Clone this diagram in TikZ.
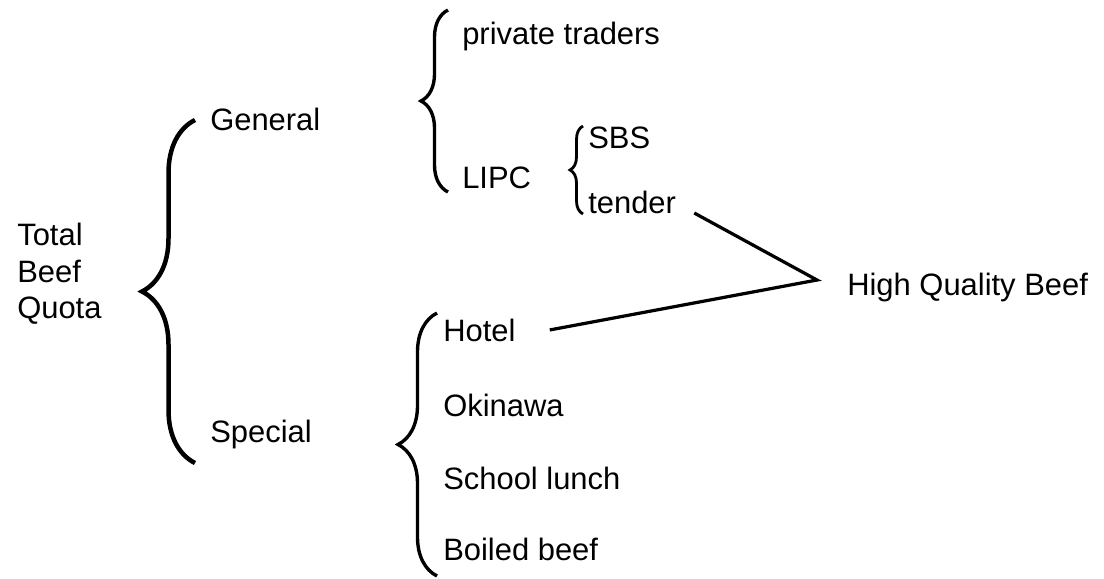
\documentclass[tikz,border=0pt]{standalone}
\usepackage{fontspec}
\setmainfont{Liberation Sans}
\usepackage{tikz}
\usetikzlibrary{positioning, calc, decorations.pathreplacing}

\begin{document}
\begin{tikzpicture}[
    quota/.style={font=\fontsize{22}{26}\selectfont, inner sep=0pt, anchor=base west},
    curly/.style={line width=2.4pt, decorate, decoration={brace, amplitude=#1}},
    link/.style={line width=2.3pt}
  ]
  \useasboundingbox (0, 0) rectangle (27.6, -14.45);

  % Total quota
  \node[quota, anchor=west, align=left] (total) at (0.425, -6.85) {Total\\Beef\\Quota};
  \draw[curly=1.325cm, line width=3.2pt] (4.875, -11.575) -- (4.875, -3.0);

  % General
  \node[quota] (general) at (5.25, -3.25) {General};
  \draw[curly=0.675cm] (11.2, -4.8) -- (11.2, -0.25);
  \node[quota] (private) at (11.55, -1.1) {private traders};
  \node[quota] (lipc) at (11.55, -4.7) {LIPC};
  \draw[curly=0.325cm, line width=2pt] (14.575, -5.35) -- (14.575, -3.15);
  \node[quota] (sbs) at (14.7, -3.7) {SBS};
  \node[quota] (tender) at (14.7, -5.325) {tender};

  % Special
  \node[quota] (special) at (5.25, -11.05) {Special};
  \draw[curly=0.975cm] (10.925, -14.4) -- (10.925, -7.825);
  \node[quota] (hotel) at (11.075, -8.525) {Hotel};
  \node[quota] (okinawa) at (11.075, -10.4) {Okinawa};
  \node[quota] (school) at (11.075, -12.225) {School lunch};
  \node[quota] (boiled) at (11.075, -14.0) {Boiled beef};

  % High quality beef
  \node[quota] (hqb) at (21.175, -7.375) {High Quality Beef};
  \coordinate (apex) at (20.425, -7.0);
  \draw[link] ([xshift=0.45cm]tender.base east) -- (apex) -- ([xshift=0.85cm]hotel.east);
\end{tikzpicture}
\end{document}
